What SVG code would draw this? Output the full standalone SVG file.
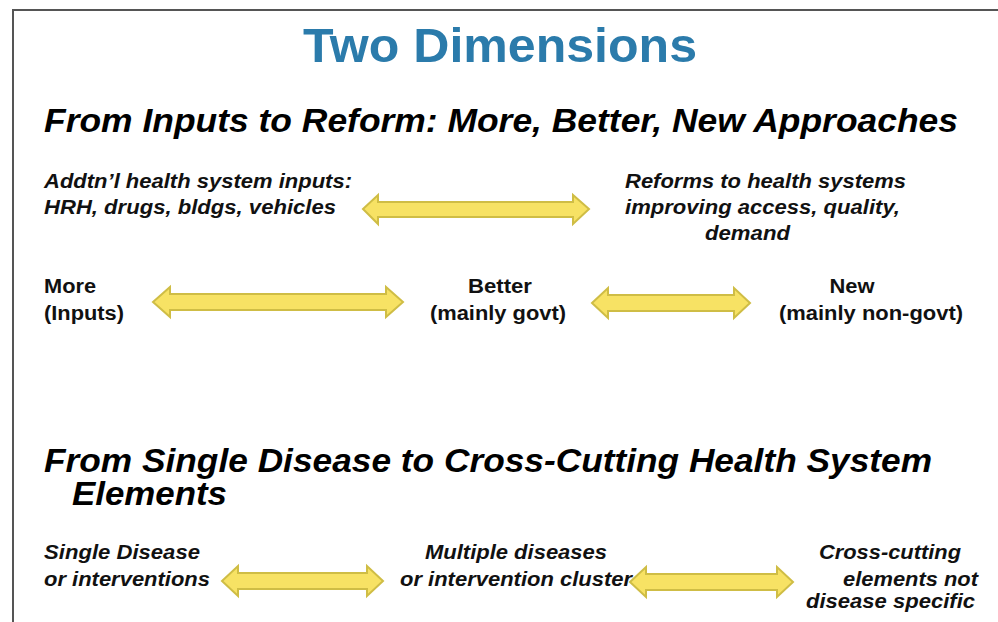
<svg xmlns="http://www.w3.org/2000/svg" width="998" height="622" viewBox="0 0 998 622">
<style>
.title{font-family:"Liberation Sans",Arial,sans-serif;font-weight:bold;font-size:48px;fill:#2b7bab}
.head{font-family:"Liberation Sans",Arial,sans-serif;font-weight:bold;font-style:italic;font-size:34px;fill:#000}
.bi{font-family:"Liberation Sans",Arial,sans-serif;font-weight:bold;font-style:italic;font-size:19.5px;fill:#111}
.b{font-family:"Liberation Sans",Arial,sans-serif;font-weight:bold;font-size:19.5px;fill:#111}
.arrow{fill:#f7e264;stroke:#cfbd45;stroke-width:2;stroke-linejoin:miter}
</style>
<rect width="998" height="622" fill="#fff"/>
<g id="frame">
<path d="M13,622 V10 H998" fill="none" stroke="#555" stroke-width="2"/>
</g>
<g id="title"><text class="title" x="500" y="62" text-anchor="middle" textLength="394" lengthAdjust="spacingAndGlyphs">Two Dimensions</text></g>
<g id="heading1"><text class="head" x="44" y="132" textLength="914" lengthAdjust="spacingAndGlyphs">From Inputs to Reform: More, Better, New Approaches</text></g>
<g id="node-inputs">
<text class="bi" x="44" y="188" textLength="308" lengthAdjust="spacingAndGlyphs">Addtn’l health system inputs:</text>
<text class="bi" x="44" y="214" textLength="292" lengthAdjust="spacingAndGlyphs">HRH, drugs, bldgs, vehicles</text>
</g>
<g id="node-reforms">
<text class="bi" x="625" y="188" textLength="281" lengthAdjust="spacingAndGlyphs">Reforms to health systems</text>
<text class="bi" x="625" y="214" textLength="275" lengthAdjust="spacingAndGlyphs">improving access, quality,</text>
<text class="bi" x="705" y="240" textLength="85" lengthAdjust="spacingAndGlyphs">demand</text>
</g>
<g id="node-more">
<text class="b" x="44" y="293" textLength="52" lengthAdjust="spacingAndGlyphs">More</text>
<text class="b" x="44" y="320" textLength="80" lengthAdjust="spacingAndGlyphs">(Inputs)</text>
</g>
<g id="node-better">
<text class="b" x="500" y="293" text-anchor="middle" textLength="64" lengthAdjust="spacingAndGlyphs">Better</text>
<text class="b" x="498" y="320" text-anchor="middle" textLength="136" lengthAdjust="spacingAndGlyphs">(mainly govt)</text>
</g>
<g id="node-new">
<text class="b" x="852" y="293" text-anchor="middle" textLength="45" lengthAdjust="spacingAndGlyphs">New</text>
<text class="b" x="871" y="320" text-anchor="middle" textLength="184" lengthAdjust="spacingAndGlyphs">(mainly non-govt)</text>
</g>
<g id="heading2">
<text class="head" x="44" y="472" textLength="888" lengthAdjust="spacingAndGlyphs">From Single Disease to Cross-Cutting Health System</text>
<text class="head" x="72" y="505" textLength="155" lengthAdjust="spacingAndGlyphs">Elements</text>
</g>
<g id="node-single">
<text class="bi" x="44" y="559" textLength="156" lengthAdjust="spacingAndGlyphs">Single Disease</text>
<text class="bi" x="44" y="586" textLength="166" lengthAdjust="spacingAndGlyphs">or interventions</text>
</g>
<g id="node-multiple">
<text class="bi" x="425" y="559" textLength="182" lengthAdjust="spacingAndGlyphs">Multiple diseases</text>
<text class="bi" x="400" y="586" textLength="232" lengthAdjust="spacingAndGlyphs">or intervention cluster</text>
</g>
<g id="node-crosscutting">
<text class="bi" x="819" y="559" textLength="142" lengthAdjust="spacingAndGlyphs">Cross-cutting</text>
<text class="bi" x="843" y="586" textLength="135" lengthAdjust="spacingAndGlyphs">elements not</text>
<text class="bi" x="806" y="608" textLength="169" lengthAdjust="spacingAndGlyphs">disease specific</text>
</g>
<g id="connectors">
<path class="arrow" d="M363,209 L378,195 L378,202 L573,202 L573,195 L589,209 L573,224 L573,217 L378,217 L378,224 Z"/>
<path class="arrow" d="M153,302 L170,287 L170,294 L386,294 L386,287 L403,302 L386,317 L386,310 L170,310 L170,317 Z"/>
<path class="arrow" d="M592,303 L608,288 L608,295 L734,295 L734,288 L750,303 L734,318 L734,311 L608,311 L608,318 Z"/>
<path class="arrow" d="M222,581 L238,566 L238,573 L367,573 L367,566 L383,581 L367,596 L367,589 L238,589 L238,596 Z"/>
<path class="arrow" d="M630,582 L646,567 L646,574 L777,574 L777,567 L793,582 L777,597 L777,590 L646,590 L646,597 Z"/>
</g>
</svg>
